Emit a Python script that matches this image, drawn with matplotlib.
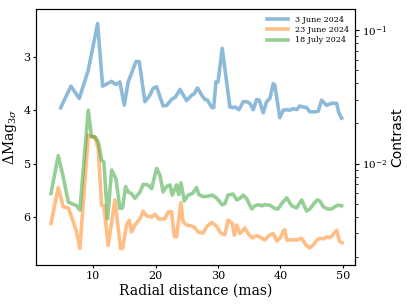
import numpy as np
import matplotlib
matplotlib.use("Agg")
import matplotlib.pyplot as plt

plt.rcParams['font.family'] = ['DejaVu Serif']
plt.rcParams['mathtext.fontset'] = 'dejavuserif'

labels = ["3 June 2024", "23 June 2024", "18 July 2024"]

x_june3 = [4.77, 6.42, 7.76, 9.2, 10.7, 11.5, 12.94, 13.63, 14.27, 14.97, 15.6, 16.84, 17.37,
           18.28, 19.08, 19.6, 20.15, 21.2, 21.75, 22.55, 23.2, 23.9, 24.96, 25.76, 26.2, 26.7,
           27.4, 27.9, 28.3, 29.0, 29.3, 29.66, 30.0, 30.67, 31.9, 32.4, 32.7, 33.35, 34.04,
           34.57, 35.1, 35.64, 36.18, 36.6, 37.24, 37.78, 38.31, 38.85, 39.1, 39.9, 40.45,
           40.98, 41.5, 42.05, 42.6, 43.1, 43.65, 44.2, 44.7, 45.5, 46.06, 46.6, 47.4, 48.2,
           49.0, 49.37, 49.8]
y_june3 = [3.955, 3.55, 3.78, 3.25, 2.376, 3.55, 3.46, 3.52, 3.47, 3.905, 3.47, 3.09, 3.09,
           3.84, 3.72, 3.59, 3.56, 3.92, 3.91, 3.80, 3.75, 3.61, 3.82, 3.72, 3.69, 3.58,
           3.72, 3.80, 3.81, 3.95, 3.95, 3.47, 3.47, 2.84, 3.94, 3.95, 3.94, 3.99, 3.84,
           3.84, 3.87, 3.99, 3.80, 3.81, 4.05, 3.84, 3.78, 3.50, 3.53, 4.14, 4.00,
           3.99, 4.00, 3.97, 3.99, 3.92, 3.94, 3.95, 4.03, 4.03, 4.02, 3.81, 3.91, 3.87,
           3.87, 4.05, 4.15]

x_june23 = [3.22, 4.39, 5.19, 6.0, 6.8, 7.33, 7.86, 9.2, 10.27, 10.8, 11.34, 11.7, 12.4, 13.47,
            14.38, 14.7, 15.34, 15.77, 16.14, 16.68, 17.5, 18.0, 18.55, 19.35, 19.9, 20.5,
            21.5, 22.0, 22.55, 23.0, 23.35, 24.05, 24.4, 24.96, 25.76, 26.2, 26.8, 27.6,
            28.2, 29.0, 29.8, 30.5, 31.1, 31.6, 32.3, 32.6, 33.0, 33.5, 34.3, 35.0, 35.5,
            36.2, 36.9, 37.5, 38.2, 38.85, 39.4, 40.0, 40.45, 40.7, 41.0, 41.8, 42.6, 43.4,
            44.2, 44.7, 45.2, 45.9, 46.3, 46.9, 47.4, 47.9, 48.46, 49.0, 49.5, 49.9]
y_june23 = [6.12, 5.45, 5.81, 5.83, 6.09, 6.28, 6.59, 4.47, 4.50, 4.72, 5.78, 5.79, 6.53, 5.68,
            6.59, 6.59, 6.15, 6.06, 6.28, 6.15, 6.03, 5.89, 5.98, 6.00, 5.95, 6.04,
            6.03, 5.91, 5.90, 6.37, 6.37, 5.73, 6.09, 6.15, 6.17, 6.19, 6.28, 6.30,
            6.18, 6.10, 6.18, 6.31, 6.33, 6.06, 6.12, 6.34, 6.15, 6.31, 6.21, 6.34, 6.39,
            6.35, 6.39, 6.43, 6.34, 6.31, 6.45, 6.39, 6.26, 6.24, 6.43, 6.43, 6.43, 6.40,
            6.54, 6.58, 6.53, 6.43, 6.40, 6.41, 6.37, 6.39, 6.33, 6.25, 6.46, 6.48]

x_july18 = [3.22, 4.39, 5.19, 6.0, 7.33, 7.86, 9.2, 9.73, 10.27, 10.8, 11.34, 11.7, 12.3, 12.94,
            13.63, 14.27, 14.7, 15.18, 15.6, 16.1, 16.68, 17.5, 18.0, 18.8, 19.35, 20.15, 20.7,
            21.2, 21.75, 22.3, 22.66, 23.35, 23.7, 24.05, 24.6, 25.2, 25.9, 26.56, 26.93,
            27.6, 28.4, 29.1, 29.8, 30.67, 31.1, 31.6, 32.4, 33.0, 33.5, 34.04, 34.6, 35.4,
            35.9, 36.4, 37.0, 37.5, 38.3, 39.1, 39.6, 40.2, 41.0, 41.8, 42.6, 43.4, 44.2, 44.7,
            45.3, 45.9, 46.3, 46.9, 47.5, 48.2, 48.7, 49.1, 49.8]
y_july18 = [5.56, 4.85, 5.25, 5.72, 5.79, 5.87, 4.00, 4.50, 4.50, 4.59, 4.94, 4.97, 6.03, 5.12,
            5.28, 5.84, 5.83, 5.43, 5.53, 5.56, 5.65, 5.53, 5.39, 5.40, 5.47, 5.09, 5.22,
            5.53, 5.43, 5.40, 5.59, 5.40, 5.58, 5.36, 5.70, 5.59, 5.56, 5.45, 5.58,
            5.62, 5.61, 5.59, 5.65, 5.77, 5.75, 5.59, 5.57, 5.68, 5.65, 5.59, 5.66, 5.85,
            5.79, 5.77, 5.79, 5.77, 5.78, 5.84, 5.85, 5.75, 5.64, 5.79, 5.83, 5.68, 5.89, 5.85,
            5.76, 5.68, 5.70, 5.81, 5.85, 5.85, 5.81, 5.78, 5.79]

fig = plt.figure(figsize=(4.07, 3.05), dpi=100)
ax = fig.add_axes([0.089, 0.131, 0.784, 0.839])

for xs, ys, lab, c in [(x_june3, y_june3, labels[0], 'C0'),
                       (x_june23, y_june23, labels[1], 'C1'),
                       (x_july18, y_july18, labels[2], 'C2')]:
    ax.plot(xs, ys, color=c, alpha=0.5, lw=2.6, label=lab)

ylo, yhi = 6.9, 2.107
ax.set_ylim(ylo, yhi)
ax.set_xlim(0.86, 52.0)
ax.set_xticks([10, 20, 30, 40, 50])
ax.set_yticks([3, 4, 5, 6])
ax.tick_params(labelsize=8, length=2, pad=2)
ax.set_xlabel("Radial distance (mas)", fontsize=10, labelpad=2)
ax.set_ylabel(r"$\Delta \mathrm{Mag}_{3\sigma}$", fontsize=10, labelpad=3)
ax.legend(loc='upper right', frameon=False, fontsize=5.8, handlelength=2.6,
          borderaxespad=0.4, labelspacing=0.3)

ax2 = ax.twinx()
ax2.set_yscale('log')
ax2.set_ylim(10 ** (-ylo / 2.5), 10 ** (-yhi / 2.5))
ax2.tick_params(which='major', labelsize=7.5, length=3, pad=2)
ax2.tick_params(which='minor', length=1.8)
ax2.set_ylabel("Contrast", fontsize=10, family='DejaVu Sans', labelpad=2)

fig.savefig("out.png", dpi=100)
